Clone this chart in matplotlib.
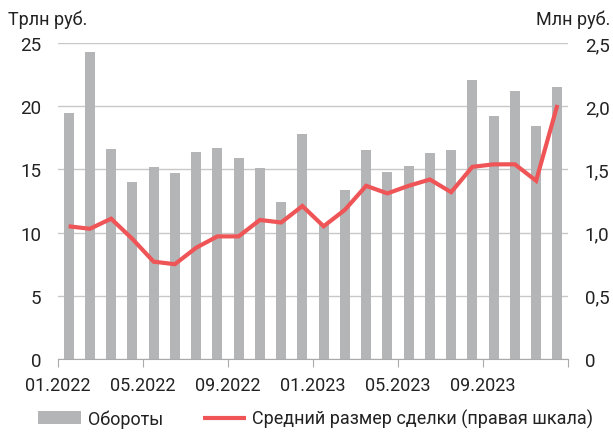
import numpy as np
import matplotlib
matplotlib.use("Agg")
import matplotlib.pyplot as plt
from matplotlib.ticker import FuncFormatter

plt.rcParams['font.family'] = ['Roboto', 'DejaVu Sans']

# monthly data, 01.2022 - 12.2023
months = ['01.2022', '02.2022', '03.2022', '04.2022', '05.2022', '06.2022',
          '07.2022', '08.2022', '09.2022', '10.2022', '11.2022', '12.2022',
          '01.2023', '02.2023', '03.2023', '04.2023', '05.2023', '06.2023',
          '07.2023', '08.2023', '09.2023', '10.2023', '11.2023', '12.2023']
turnover = [19.5, 24.3, 16.6, 14.0, 15.2, 14.7, 16.4, 16.7, 15.9, 15.1, 12.4, 17.8,
            10.6, 13.4, 16.5, 14.8, 15.3, 16.3, 16.5, 22.1, 19.2, 21.2, 18.4, 21.5]
avg_deal = [1.05, 1.03, 1.11, 0.95, 0.77, 0.75, 0.88, 0.97, 0.97, 1.10, 1.08, 1.21,
            1.05, 1.18, 1.37, 1.31, 1.37, 1.42, 1.32, 1.52, 1.54, 1.54, 1.41, 2.01]
tick_labels = ['01.2022', '05.2022', '09.2022', '01.2023', '05.2023', '09.2023', '']

bar_color = '#b4b5b7'
line_color = '#ef5456'
text_color = '#222222'
grid_color = '#c8c8c8'

fig = plt.figure(figsize=(6.13, 4.35), dpi=100)
ax = fig.add_axes([0.0946, 0.1724, 0.832, 0.7265])
ax2 = ax.twinx()

x = np.arange(len(months))
bars = ax.bar(x, turnover, width=0.48, color=bar_color, zorder=2, label='Обороты')
line, = ax2.plot(x, avg_deal, color=line_color, lw=3, solid_capstyle='butt',
                 solid_joinstyle='miter', label='Средний размер сделки (правая шкала)')

ax.set_xlim(-0.5, len(months) - 0.5)
ax.set_ylim(0, 25)
ax2.set_ylim(0, 2.5)
ax.set_yticks(np.arange(0, 26, 5))
ax2.set_yticks(np.arange(0, 2.6, 0.5))
ax2.yaxis.set_major_formatter(FuncFormatter(
    lambda v, p: '0' if v == 0 else f'{v:.1f}'.replace('.', ',')))

ax.set_xticks(np.arange(-0.5, len(months), 4))
ax.set_xticklabels(tick_labels)

ax.grid(axis='y', color=grid_color, lw=1, zorder=0)
ax.set_axisbelow(True)
for a in (ax, ax2):
    for s in ('left', 'right', 'top'):
        a.spines[s].set_visible(False)
    a.spines['bottom'].set_color('#aaaaaa')
ax2.spines['bottom'].set_visible(False)

ax.tick_params(axis='x', length=6, color='#aaaaaa', labelsize=13, labelcolor=text_color, pad=6)
ax.tick_params(axis='y', length=0, labelsize=13.5, labelcolor=text_color, pad=12)
ax2.tick_params(axis='y', length=0, labelsize=13.5, labelcolor=text_color, pad=12)

fig.text(0.013, 0.955, 'Трлн руб.', fontsize=13, color=text_color, ha='left', va='center')
fig.text(0.995, 0.955, 'Млн руб.', fontsize=13, color=text_color, ha='right', va='center')

fig.legend([bars, line], ['Обороты', 'Средний размер сделки (правая шкала)'],
           loc='center', bbox_to_anchor=(0.515, 0.035), ncol=2, frameon=False,
           fontsize=13, handlelength=2.4, columnspacing=2.2, handletextpad=0.35,
           labelcolor=text_color)

fig.savefig('out.png', dpi=100)
